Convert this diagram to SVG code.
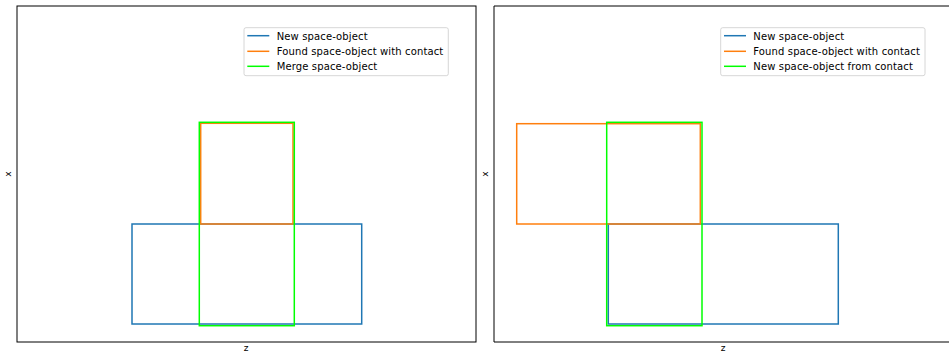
<svg xmlns="http://www.w3.org/2000/svg" width="949" height="355" viewBox="0 0 949 355">
<style>
  .spine{fill:none;stroke:#000;stroke-width:1}
  .legbox{fill:#fff;fill-opacity:0.8;stroke:#ccc;stroke-width:0.8}
  .lbl{font-family:"DejaVu Sans",sans-serif;font-size:9px;fill:#000}
  .leg{font-family:"DejaVu Sans",sans-serif;font-size:10px;letter-spacing:0.13px;fill:#000}
  .r{fill:none;stroke-width:1.5}
  .blue{stroke:#1f77b4}
  .orange{stroke:#ff7f0e}
  .green{stroke:#00ff00}
</style>
<rect width="949" height="355" fill="#fff"/>
<g id="axes-left">
  <rect class="spine" x="17" y="6" width="459" height="336"/>
  <text class="lbl" x="246" y="351" text-anchor="middle">z</text>
  <text class="lbl" x="0" y="0" text-anchor="middle" transform="translate(11,174) rotate(-90)">x</text>
</g>
<g id="axes-right">
  <path class="spine" d="M960,6 H494 V342 H960"/>
  <text class="lbl" x="723" y="351" text-anchor="middle">z</text>
  <text class="lbl" x="0" y="0" text-anchor="middle" transform="translate(488,174) rotate(-90)">x</text>
</g>
<g id="left-new"><rect class="r blue" x="132" y="224" width="229.7" height="100"/></g>
<g id="left-found"><rect class="r orange" x="200.7" y="123.3" width="92.3" height="100.7"/></g>
<g id="left-merge"><rect class="r green" x="199.3" y="122.3" width="95" height="203.4" stroke-width="2"/></g>
<g id="right-new"><rect class="r blue" x="608.3" y="224" width="230" height="100"/></g>
<g id="right-found"><rect class="r orange" x="516.7" y="123.7" width="183.6" height="100.3"/></g>
<g id="right-contact"><rect class="r green" x="606.7" y="122.3" width="95.3" height="203.4" stroke-width="2"/></g>
<g id="legend-left">
  <rect class="legbox" x="244" y="27.7" width="204.3" height="48" rx="2"/>
  <line class="blue" x1="247.3" y1="35.7" x2="269.3" y2="35.7" stroke-width="1.5"/>
  <line class="orange" x1="247.3" y1="51.3" x2="269.3" y2="51.3" stroke-width="1.5"/>
  <line class="green" x1="247.3" y1="66.3" x2="269.3" y2="66.3" stroke-width="1.5"/>
  <text class="leg" x="276.7" y="39.6">New space-object</text>
  <text class="leg" x="276.7" y="55.1">Found space-object with contact</text>
  <text class="leg" x="276.7" y="70.1">Merge space-object</text>
</g>
<g id="legend-right">
  <rect class="legbox" x="720.7" y="27.7" width="204.3" height="48" rx="2"/>
  <line class="blue" x1="724" y1="35.7" x2="746" y2="35.7" stroke-width="1.5"/>
  <line class="orange" x1="724" y1="51.3" x2="746" y2="51.3" stroke-width="1.5"/>
  <line class="green" x1="724" y1="66.3" x2="746" y2="66.3" stroke-width="1.5"/>
  <text class="leg" x="753.3" y="39.6">New space-object</text>
  <text class="leg" x="753.3" y="55.1">Found space-object with contact</text>
  <text class="leg" x="753.3" y="70.1">New space-object from contact</text>
</g>
</svg>
